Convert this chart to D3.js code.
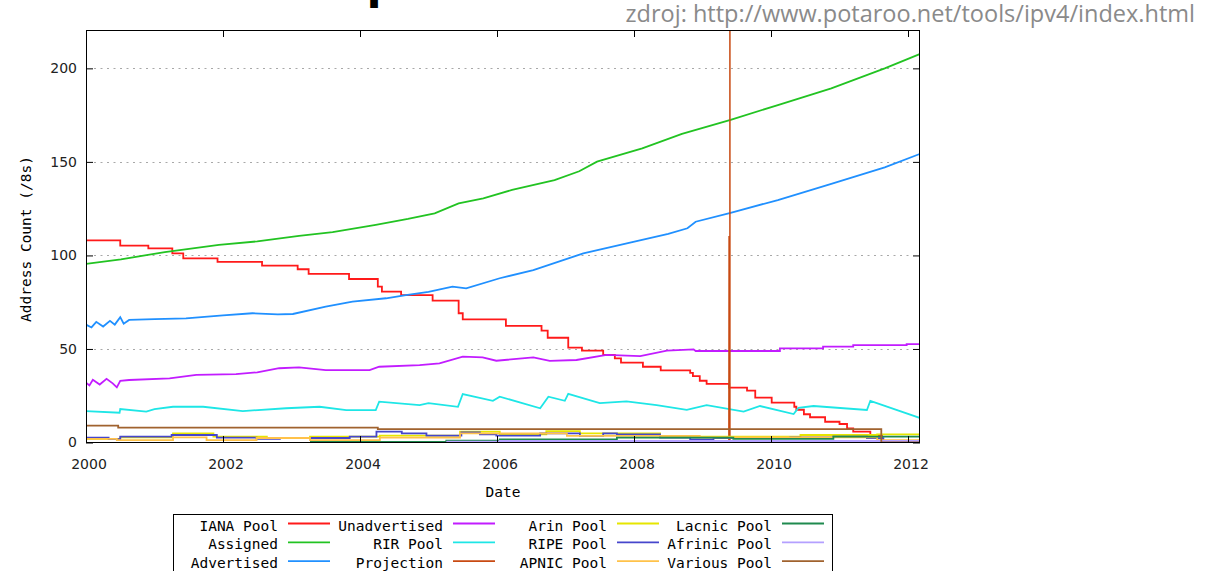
<!DOCTYPE html>
<html>
<head>
<meta charset="utf-8">
<script src="https://cdn.jsdelivr.net/npm/d3@7"></script>
<style>
  html, body { margin: 0; padding: 0; background: #fff; }
  svg { display: block; }
</style>
</head>
<body>
<svg id="chart" width="1210" height="571"></svg>
<script>
// ---------------- DATA (year, /8 count) ----------------
const xTicks = [2000, 2002, 2004, 2006, 2008, 2010, 2012];
const yTicks = [0, 50, 100, 150, 200];
const gridValues = [50, 100, 150, 200];

const seriesNames = ["IANA Pool", "Assigned", "Advertised", "Unadvertised", "RIR Pool", "Projection",
                     "Arin Pool", "RIPE Pool", "APNIC Pool", "Lacnic Pool", "Afrinic Pool", "Various Pool"];

const ianaPool = [[2000.00,108.0],[2000.50,105.2],[2000.91,103.8],[2001.26,101.1],[2001.42,98.4],[2001.92,96.6],
  [2002.57,94.5],[2003.09,92.6],[2003.25,90.1],[2003.84,87.4],[2004.26,83.3],[2004.32,80.6],[2004.60,78.8],
  [2005.06,75.8],[2005.44,69.1],[2005.50,65.8],[2006.13,62.3],[2006.65,59.8],[2006.74,56.0],[2007.04,50.7],
  [2007.24,49.1],[2007.55,46.8],[2007.72,45.0],[2007.81,42.7],[2008.13,40.5],[2008.39,38.6],[2008.82,37.2],
  [2008.86,35.5],[2008.96,33.0],[2009.06,31.3],[2009.39,29.3],[2009.65,27.7],[2009.77,24.0],[2010.01,21.3],
  [2010.34,19.1],[2010.37,17.5],[2010.48,15.1],[2010.57,13.5],[2010.79,11.1],[2011.00,9.9],[2011.11,7.5],
  [2011.20,5.8],[2011.45,3.5],[2011.62,0.0],[2012.18,0.0]];

const assigned = [[2000.00,95.5],[2000.51,97.9],[2001.15,101.8],[2001.94,105.6],[2002.50,107.5],[2003.11,110.5],
  [2003.60,112.5],[2004.23,116.3],[2004.70,119.5],[2005.09,122.5],[2005.44,127.8],[2005.80,130.5],[2006.22,135.0],
  [2006.84,140.3],[2007.20,145.0],[2007.46,150.1],[2008.12,157.2],[2008.70,165.0],[2009.41,172.4],[2010.10,180.4],
  [2010.88,189.3],[2011.66,200.0],[2012.17,207.6]];

const advertised = [[2000.00,63.0],[2000.08,61.5],[2000.15,64.5],[2000.25,62.0],[2000.35,65.0],[2000.42,63.0],
  [2000.50,67.0],[2000.55,63.5],[2000.63,65.5],[2001.00,66.0],[2001.46,66.4],[2002.00,68.0],[2002.43,69.1],
  [2002.80,68.5],[2003.02,68.7],[2003.50,72.6],[2003.89,75.3],[2004.38,77.1],[2004.67,78.8],[2005.00,80.5],
  [2005.35,83.3],[2005.55,82.4],[2006.04,87.8],[2006.53,92.2],[2007.26,101.1],[2007.99,107.3],[2008.50,111.5],
  [2008.78,114.5],[2008.90,118.0],[2009.41,122.8],[2010.10,129.6],[2010.88,138.2],[2011.66,147.1],[2012.17,154.2]];

const unadvertised = [[2000.00,32.0],[2000.05,30.5],[2000.10,33.5],[2000.20,31.0],[2000.30,34.0],[2000.39,31.6],
  [2000.45,29.5],[2000.50,33.0],[2000.63,33.4],[2001.22,34.3],[2001.61,36.1],[2002.19,36.6],[2002.50,37.5],
  [2002.82,39.7],[2003.11,40.2],[2003.50,38.7],[2004.14,38.7],[2004.28,40.5],[2004.87,41.4],[2005.16,42.3],
  [2005.50,45.9],[2005.79,45.5],[2005.99,43.7],[2006.53,45.5],[2006.77,43.6],[2007.16,44.1],[2007.60,46.8],
  [2008.09,46.2],[2008.48,49.1],[2008.87,49.8],[2008.90,48.9],[2010.13,48.9],[2010.13,50.3],[2010.76,50.3],
  [2010.76,51.2],[2011.20,51.2],[2011.20,52.1],[2011.98,52.1],[2011.98,52.6],[2012.18,52.6]];

const rirPool = [[2000.00,16.8],[2000.49,15.9],[2000.50,17.9],[2000.88,16.5],[2001.00,17.8],[2001.27,19.1],
  [2001.71,19.1],[2002.29,16.8],[2002.92,18.3],[2003.41,19.1],[2003.80,17.3],[2004.23,17.3],[2004.28,21.8],
  [2004.87,20.0],[2005.00,21.0],[2005.43,19.1],[2005.50,25.9],[2005.94,22.3],[2006.04,24.5],[2006.63,18.3],
  [2006.75,24.5],[2006.99,22.3],[2007.04,26.0],[2007.50,21.0],[2007.89,22.0],[2008.33,20.0],[2008.77,17.4],
  [2009.06,20.0],[2009.60,16.5],[2009.84,19.5],[2010.33,15.2],[2010.40,18.5],[2010.62,19.5],[2011.40,17.4],
  [2011.45,22.3],[2012.19,12.9]];

const projection = [[2009.385,0],[2009.388,110],[2009.392,110],[2009.395,0],[2009.400,0],[2009.400,240]];

const arinPool = [[2000.00,1.9],[2000.50,2.7],[2001.27,4.9],[2001.86,3.1],[2002.64,2.4],[2003.27,3.1],
  [2004.29,3.7],[2005.46,5.8],[2006.04,4.3],[2006.72,6.1],[2007.21,4.9],[2008.38,3.1],[2010.43,4.0],
  [2011.55,4.3],[2012.18,4.3]];

const ripePool = [[2000.00,2.6],[2000.33,1.8],[2000.50,3.1],[2001.25,4.0],[2001.91,2.6],[2002.49,1.9],
  [2002.83,2.4],[2003.85,3.1],[2004.24,5.8],[2004.61,4.9],[2004.97,3.7],[2005.48,5.4],[2005.75,4.3],
  [2005.99,3.7],[2006.63,4.9],[2007.21,3.5],[2007.55,4.9],[2007.75,4.3],[2008.38,2.6],[2008.82,1.7],
  [2009.16,2.3],[2010.28,2.7],[2010.91,3.1],[2011.40,2.3],[2011.64,0.6],[2012.18,0.6]];

const apnicPool = [[2000.00,1.9],[2000.45,1.3],[2001.27,2.7],[2001.76,1.3],[2002.49,2.4],[2003.27,1.3],
  [2004.29,2.6],[2005.46,4.9],[2007.02,3.5],[2008.96,2.7],[2011.55,1.3],[2012.18,1.3]];

const lacnicPool = [[2003.27,0.3],[2005.26,1.0],[2006.04,1.7],[2007.75,2.6],[2009.45,1.9],[2010.91,3.1],[2012.18,3.1]];

const afrinicPool = [[2005.26,0.5],[2006.04,0.8],[2012.18,0.8]];

const variousPool = [[2000.00,9.0],[2000.47,7.9],[2004.26,7.2],[2011.61,0.0],[2012.18,0.0]];

// ---------------- STYLE ----------------
const seriesColors = ["#ff1a1a", "#22c322", "#2090ff", "#c21cff", "#1ee6e6", "#c84a12",
                      "#e6e600", "#4646cc", "#ffc24a", "#1f8a4f", "#b4a0ff", "#a0622e"];
const stepped = [true, false, false, false, false, false, true, true, true, true, true, true];
const seriesData = [ianaPool, assigned, advertised, unadvertised, rirPool, projection,
                    arinPool, ripePool, apnicPool, lacnicPool, afrinicPool, variousPool];

const W = 1210, H = 571;
const plot = {left: 86, right: 920, top: 30, bottom: 443};

const svg = d3.select("#chart");
svg.append("rect").attr("width", W).attr("height", H).attr("fill", "#fff");

const x = d3.scaleLinear().domain([2000, 2012.175]).range([plot.left, plot.right]);
const y = d3.scaleLinear().domain([0, 220.5]).range([442.5, plot.top]);

const sans = "'DejaVu Sans', Verdana, sans-serif";
const mono = "'DejaVu Sans Mono', monospace";

// title fragment (cut off at top of the slide)
svg.append("text").attr("x", 366.5).attr("y", -1.2)
  .style("font-family", sans).style("font-weight", "bold").style("font-size", "44px")
  .attr("fill", "#000").text("p");

// source note
const src = svg.append("text").attr("x", 1195).attr("y", 22).attr("text-anchor", "end")
  .style("font-family", "'Open Sans', sans-serif").style("font-size", "19px").attr("fill", "#8a8a8a")
  .text("zdroj: http://www.potaroo.net/tools/ipv4/index.html");
const srcW = src.node().getComputedTextLength();
src.style("font-size", (19 * 570 / srcW) + "px");

// grid
svg.append("g").selectAll("line").data(gridValues).join("line")
  .attr("x1", plot.left + 8).attr("x2", plot.right - 8)
  .attr("y1", d => Math.round(y(d)) + 0.5).attr("y2", d => Math.round(y(d)) + 0.5)
  .attr("stroke", "#a8a8a8").attr("stroke-width", 1).attr("stroke-dasharray", "2,4.5");

// clip
svg.append("clipPath").attr("id", "clip").append("rect")
  .attr("x", plot.left).attr("y", plot.top).attr("width", plot.right - plot.left).attr("height", plot.bottom - plot.top);

const g = svg.append("g").attr("clip-path", "url(#clip)");
seriesData.forEach((data, i) => {
  const line = d3.line().x(d => x(d[0])).y(d => y(d[1]))
    .curve(stepped[i] ? d3.curveStepAfter : d3.curveLinear);
  g.append("path").datum(data).attr("d", line)
    .attr("fill", "none").attr("stroke", seriesColors[i])
    .attr("stroke-width", i === 5 ? 1.5 : 1.8).attr("stroke-linejoin", "miter");
});

// axes (ticks inside)
const axisStyle = sel => {
  sel.select(".domain").remove();
  sel.selectAll(".tick line").attr("stroke", "#000");
  sel.selectAll(".tick text").style("font-family", sans).style("font-size", "14px").attr("fill", "#222");
};
svg.append("g").attr("transform", `translate(${plot.left},0)`)
  .call(d3.axisLeft(y).tickValues(yTicks).tickSize(-7).tickPadding(9).tickFormat(d3.format("d")))
  .call(axisStyle);
svg.append("g").attr("transform", `translate(${plot.right},0)`)
  .call(d3.axisRight(y).tickValues(yTicks).tickSize(-7).tickFormat(""))
  .call(axisStyle);
const xb = svg.append("g").attr("transform", `translate(0,${plot.bottom})`)
  .call(d3.axisBottom(x).tickValues(xTicks).tickSize(-7).tickPadding(16).tickFormat(d3.format("d")))
  .call(axisStyle);
xb.selectAll(".tick text").attr("dx", 2.5);
svg.append("g").attr("transform", `translate(0,${plot.top})`)
  .call(d3.axisTop(x).tickValues(xTicks).tickSize(-7).tickFormat(""))
  .call(axisStyle);

// frame
svg.append("rect").attr("x", plot.left + 0.5).attr("y", plot.top + 0.5)
  .attr("width", plot.right - plot.left - 1).attr("height", plot.bottom - plot.top - 1)
  .attr("fill", "none").attr("stroke", "#000").attr("stroke-width", 1);

// axis titles
svg.append("text").attr("transform", "translate(30.5,239) rotate(-90)").attr("text-anchor", "middle")
  .style("font-family", mono).style("font-size", "14.5px").attr("fill", "#000").text("Address Count (/8s)");
svg.append("text").attr("x", 503).attr("y", 497).attr("text-anchor", "middle")
  .style("font-family", mono).style("font-size", "14.5px").attr("fill", "#000").text("Date");

// legend
svg.append("rect").attr("x", 173.5).attr("y", 514.5).attr("width", 659).attr("height", 80)
  .attr("fill", "#fff").attr("stroke", "#000").attr("stroke-width", 1);
const colX = [278, 443, 607, 772];
const rowY = [530.5, 549.3, 568.2];
const leg = svg.append("g");
seriesNames.forEach((name, i) => {
  const col = Math.floor(i / 3), row = i % 3;
  leg.append("text").attr("x", colX[col]).attr("y", rowY[row]).attr("text-anchor", "end")
    .style("font-family", mono).style("font-size", "14.5px").attr("fill", "#000").text(name);
  leg.append("line").attr("x1", colX[col] + 10).attr("x2", colX[col] + 52)
    .attr("y1", rowY[row] - 7).attr("y2", rowY[row] - 7)
    .attr("stroke", seriesColors[i]).attr("stroke-width", 1.8);
});
</script>
</body>
</html>
